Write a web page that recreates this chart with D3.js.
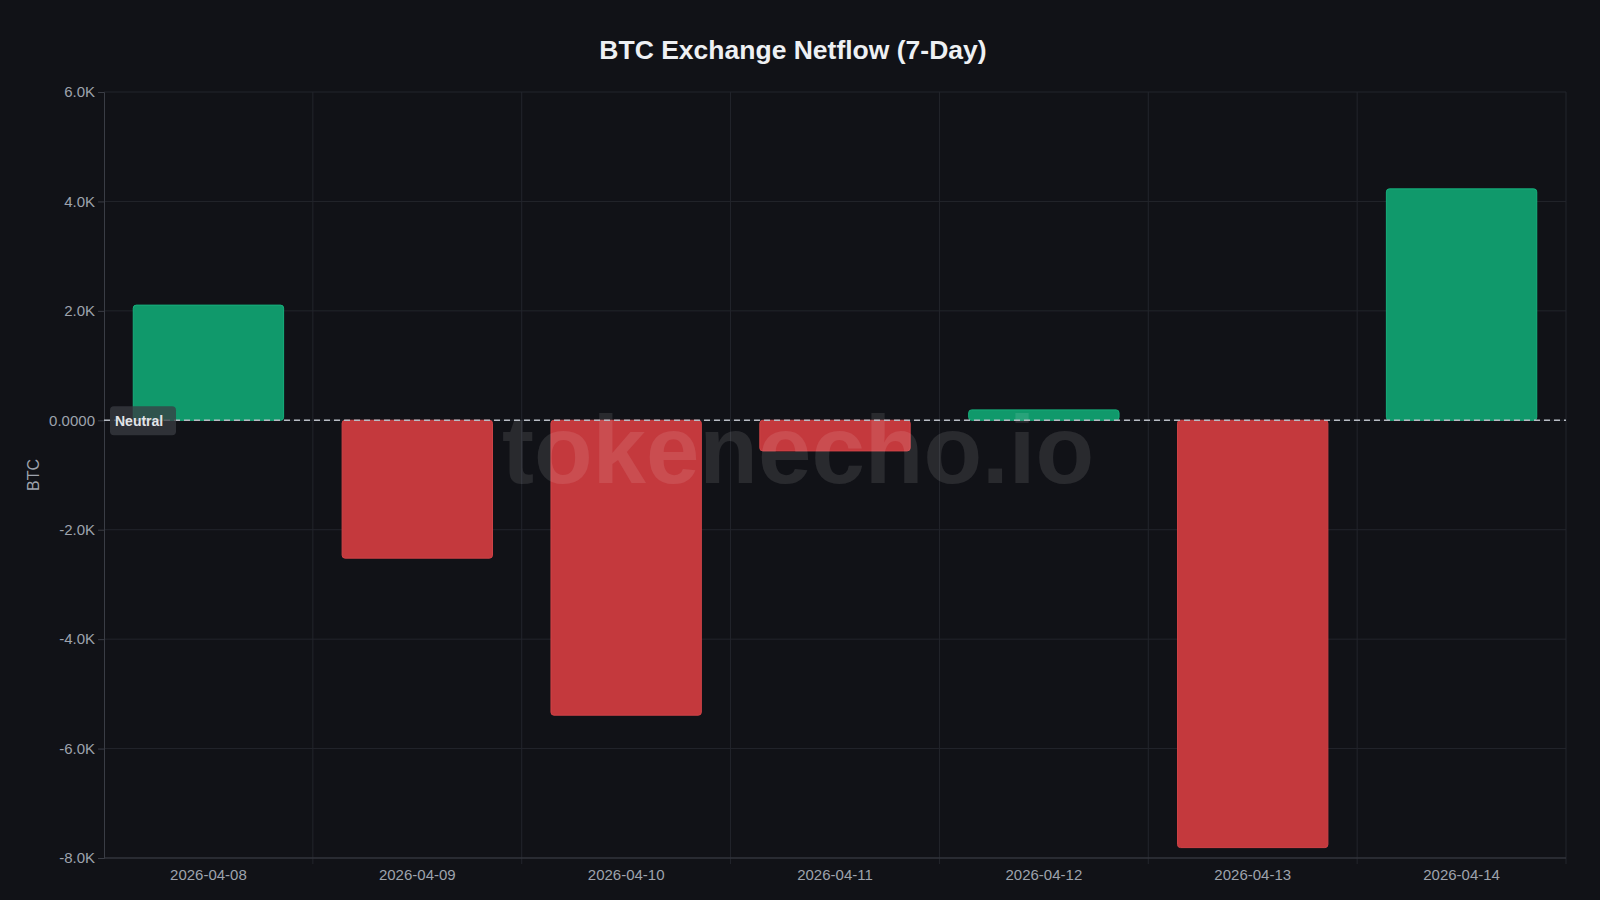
<!DOCTYPE html>
<html><head><meta charset="utf-8">
<script src="https://cdn.jsdelivr.net/npm/d3@7"></script>
<style>
html,body{margin:0;background:#111217;}
svg{display:block;font-family:"Helvetica Neue",Arial,"Liberation Sans",sans-serif;}
</style></head><body>
<svg id="chart" width="1600" height="900"></svg>
<script>
// data (BTC)
var dates = ["2026-04-08","2026-04-09","2026-04-10","2026-04-11","2026-04-12","2026-04-13","2026-04-14"];
var netflow = [2105, -2520, -5390, -560, 190, -7810, 4230];
var yTicks = [6000, 4000, 2000, 0, -2000, -4000, -6000, -8000];

var W = 1600, H = 900;
var m = {top: 92, right: 34, bottom: 42, left: 104};
var svg = d3.select("#chart");

var x = d3.scaleBand().domain(dates).range([m.left, W - m.right]).paddingInner(0.28).paddingOuter(0.14);
var xGrid = d3.scaleBand().domain(dates).range([m.left, W - m.right]);
var y = d3.scaleLinear().domain([-8000, 6000]).range([H - m.bottom, m.top]);

function fmt(v){ return v === 0 ? "0.0000" : (v/1000).toFixed(1) + "K"; }

// grid
svg.append("g").selectAll("line").data(yTicks).join("line")
  .attr("x1", m.left).attr("x2", W - m.right)
  .attr("y1", d => y(d)).attr("y2", d => y(d))
  .attr("stroke", "#23252c").attr("stroke-width", 1);
svg.append("g").selectAll("line").data(dates).join("line")
  .attr("x1", (d,i) => m.left + xGrid.bandwidth()*(i+1)).attr("x2", (d,i) => m.left + xGrid.bandwidth()*(i+1))
  .attr("y1", m.top).attr("y2", H - m.bottom + 6)
  .attr("stroke", "#23252c");

// axes
var ya = svg.append("g").attr("transform", "translate(" + m.left + ",0)")
  .call(d3.axisLeft(y).tickValues(yTicks).tickFormat(fmt).tickSize(6));
ya.select(".domain").attr("stroke", "#3a3d45");
ya.selectAll(".tick line").attr("stroke", "#3a3d45");
ya.selectAll("text").attr("fill", "#9ea3ad").attr("font-size", 15);

var xa = svg.append("g").attr("transform", "translate(0," + (H - m.bottom) + ")")
  .call(d3.axisBottom(x).tickSize(0).tickPadding(11));
xa.select(".domain").attr("stroke", "#3a3d45").attr("d", "M" + m.left + ",0H" + (W - m.right));
xa.selectAll("text").attr("fill", "#9ea3ad").attr("font-size", 15);

// bars
svg.append("g").selectAll("rect").data(netflow).join("rect")
  .attr("x", (d,i) => x(dates[i])).attr("width", x.bandwidth())
  .attr("y", d => y(Math.max(0, d))).attr("height", d => Math.abs(y(d) - y(0)))
  .attr("rx", 3)
  .attr("fill", d => d >= 0 ? "#10996b" : "#c4393d")
  .attr("stroke", d => d >= 0 ? "#16b07c" : "#d04347").attr("stroke-width", 1);

// watermark
svg.append("text").attr("x", 798).attr("y", 483).attr("text-anchor", "middle")
  .attr("font-size", 96).attr("font-weight", "bold").attr("fill", "#ffffff").attr("fill-opacity", 0.1)
  .text("tokenecho.io");

// zero line
svg.append("line").attr("x1", m.left).attr("x2", W - m.right).attr("y1", y(0)).attr("y2", y(0))
  .attr("stroke", "#b8bcc4").attr("stroke-width", 1.5).attr("stroke-dasharray", "6,4");
svg.append("rect").attr("x", m.left + 6).attr("y", y(0) - 14).attr("width", 66).attr("height", 29)
  .attr("rx", 4).attr("fill", "#3a3c43").attr("fill-opacity", 0.75);
svg.append("text").attr("x", m.left + 11).attr("y", y(0) + 6).attr("font-size", 14).attr("font-weight", "bold")
  .attr("fill", "#e2e4e8").text("Neutral");

// labels
svg.append("text").attr("x", W/2 - 7).attr("y", 59).attr("text-anchor", "middle")
  .attr("font-size", 26.5).attr("font-weight", "bold").attr("fill", "#eef0f3")
  .text("BTC Exchange Netflow (7-Day)");
svg.append("text").attr("transform", "translate(39," + y(-1000) + ") rotate(-90)")
  .attr("text-anchor", "middle").attr("font-size", 16).attr("fill", "#9ea3ad").text("BTC");
</script>
</body></html>
